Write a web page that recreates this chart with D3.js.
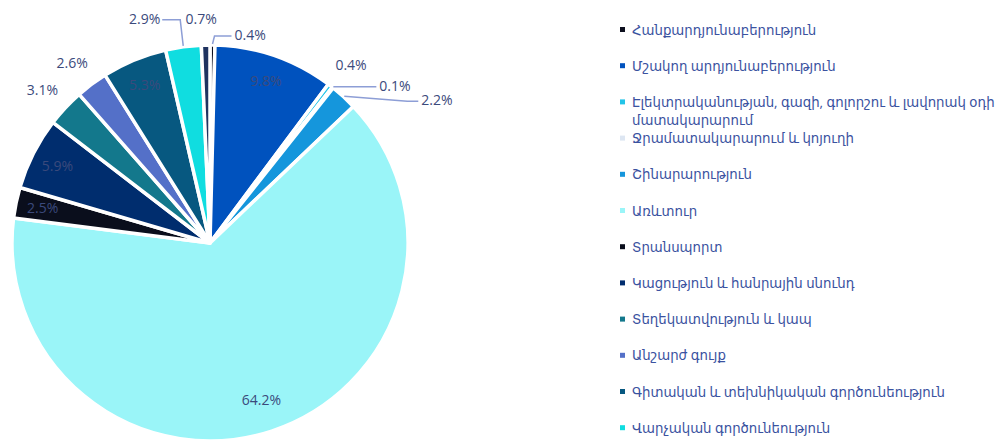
<!DOCTYPE html>
<html>
<head>
<meta charset="utf-8">
<script src="https://cdn.jsdelivr.net/npm/d3@7"></script>
<style>
  body { margin: 0; background: #fff; }
  svg text { font-family: "Open Sans", "DejaVu Sans", sans-serif; }
</style>
</head>
<body>
<div id="root" style="width:1004px;height:440px;"></div>
<script>
var categories = [
    "Հանքարդյունաբերություն",
    "Մշակող արդյունաբերություն",
    "Էլեկտրականության, գազի, գոլորշու և լավորակ օդի մատակարարում",
    "Ջրամատակարարում և կոյուղի",
    "Շինարարություն",
    "Առևտուր",
    "Տրանսպորտ",
    "Կացություն և հանրային սնունդ",
    "Տեղեկատվություն և կապ",
    "Անշարժ գույք",
    "Գիտական և տեխնիկական գործունեություն",
    "Վարչական գործունեություն",
    "Այլ ծառայություններ"
];
var shares = [0.4, 9.8, 0.4, 0.1, 2.2, 64.2, 2.5, 5.9, 3.1, 2.6, 5.3, 2.9, 0.7];
var colors = ["#0d0f1e", "#0052be", "#22c4e8", "#dde6f2", "#1596dc", "#9af5f8",
              "#0a0e1c", "#002d6e", "#13788c", "#5470c8", "#075880", "#10dde0", "#1f3360"];
// third legend entry wraps onto a second line
var legendLines = {2: ["Էլեկտրականության, գազի, գոլորշու և լավորակ օդի", "մատակարարում"]};

var width = 1004, height = 440,
    cx = 210, cy = 243, radius = 198;

var svg = d3.select("#root").append("svg")
    .attr("width", width)
    .attr("height", height);

var data = categories.map(function(c, i) {
    return {name: c, value: shares[i], color: colors[i], index: i};
});

var pie = d3.pie()
    .sort(null)
    .value(function(d) { return d.value; });

var arcs = pie(data);

var arc = d3.arc().innerRadius(0).outerRadius(radius);

var chart = svg.append("g")
    .attr("transform", "translate(" + [cx, cy] + ")");

chart.selectAll("path")
    .data(arcs)
    .enter()
    .append("path")
    .attr("d", arc)
    .attr("fill", function(d) { return d.data.color; })
    .attr("stroke", "#fff")
    .attr("stroke-width", 3.5)
    .attr("stroke-linejoin", "round");

function mid(d) { return (d.startAngle + d.endAngle) / 2; }
function polar(a, r) { return [Math.sin(a) * r, -Math.cos(a) * r]; }

var labelColor = "#3b4a7c";
// inside labels for the bigger slices, outside for the small ones
var inside = {1: 1, 5: 1, 6: 1, 7: 1, 10: 1};
// callouts with leader lines: elbow offset from the arc point, then run length
var callouts = {
    0: {elbow: [2, -8], run: 17},
    3: {elbow: [0, 0], run: 43},
    4: {elbow: [63, 5], run: 11},
    11: {elbow: [-3, -26], run: -18}
};

var labels = chart.append("g").attr("class", "labels");

arcs.forEach(function(d, i) {
    var a = mid(d), txt = d.data.value.toFixed(1) + "%";
    if (inside[i]) {
        var p = polar(a, i == 5 ? 165 : 171);
        labels.append("text")
            .attr("x", p[0]).attr("y", p[1])
            .attr("dy", "0.35em")
            .attr("text-anchor", "middle")
            .attr("font-size", 14)
            .attr("fill", labelColor)
            .text(txt);
    } else if (callouts[i]) {
        var c = callouts[i],
            p0 = polar(a, radius + 1),
            p1 = [p0[0] + c.elbow[0], p0[1] + c.elbow[1]],
            p2 = [p1[0] + c.run, p1[1]];
        labels.append("polyline")
            .attr("points", [p0, p1, p2].map(function(p) { return p.join(","); }).join(" "))
            .attr("fill", "none")
            .attr("stroke", "#8d9ed6")
            .attr("stroke-width", 1.5);
        labels.append("text")
            .attr("x", p2[0] + (c.run > 0 ? 3 : -2)).attr("y", p2[1])
            .attr("dy", "0.3em")
            .attr("text-anchor", c.run > 0 ? "start" : "end")
            .attr("font-size", 14)
            .attr("fill", labelColor)
            .text(txt);
    } else {
        var q = polar(a, 224);
        labels.append("text")
            .attr("x", q[0] + (i == 2 ? 5 : -4)).attr("y", q[1])
            .attr("dy", "0.35em")
            .attr("text-anchor", "middle")
            .attr("font-size", 14)
            .attr("fill", labelColor)
            .text(txt);
    }
});

// legend, only the rows that fit in the frame
var legendY = d3.scaleLinear().domain([0, 1]).range([30, 66.2]);

var legend = svg.append("g")
    .attr("class", "legend")
    .selectAll("g")
    .data(data.filter(function(d, i) { return legendY(i) < height - 8; }))
    .enter()
    .append("g")
    .attr("transform", function(d, i) { return "translate(620," + legendY(i) + ")"; });

legend.append("rect")
    .attr("x", 0).attr("y", -3)
    .attr("width", 5).attr("height", 5)
    .attr("fill", function(d) { return d.color; });

legend.append("text")
    .attr("x", 12)
    .attr("font-size", 13.3)
    .attr("fill", "#3a52a0")
    .each(function(d, i) {
        var lines = legendLines[i] || [d.name];
        d3.select(this).selectAll("tspan")
            .data(lines)
            .enter()
            .append("tspan")
            .attr("x", 12)
            .attr("dy", function(l, j) { return j == 0 ? "0.35em" : 18; })
            .text(function(l) { return l; });
    });
</script>
</body>
</html>
